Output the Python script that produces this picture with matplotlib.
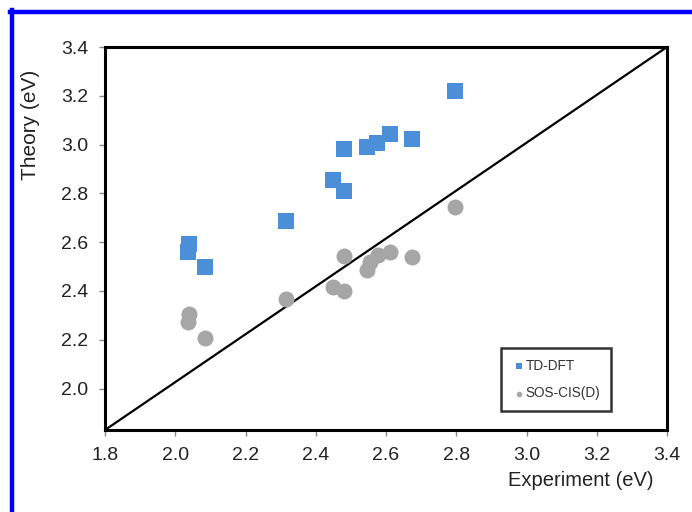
import matplotlib
matplotlib.use("Agg")
import matplotlib.pyplot as plt
from matplotlib.lines import Line2D

plt.rcParams['font.family'] = ['Liberation Sans', 'DejaVu Sans']

# Data
td_dft_x = [2.04, 2.037, 2.085, 2.314, 2.45, 2.48, 2.48, 2.545, 2.575, 2.611, 2.675, 2.796]
td_dft_y = [2.594, 2.56, 2.498, 2.686, 2.854, 2.98, 2.81, 2.99, 3.008, 3.043, 3.024, 3.221]
sos_x = [2.04, 2.035, 2.085, 2.314, 2.45, 2.48, 2.48, 2.545, 2.555, 2.578, 2.611, 2.675, 2.796]
sos_y = [2.304, 2.272, 2.208, 2.366, 2.416, 2.40, 2.542, 2.485, 2.52, 2.546, 2.56, 2.539, 2.745]
diag_x = [1.8, 3.4]
diag_y = [1.83, 3.4]
x_ticks = [1.8, 2.0, 2.2, 2.4, 2.6, 2.8, 3.0, 3.2, 3.4]
y_ticks = [2.0, 2.2, 2.4, 2.6, 2.8, 3.0, 3.2, 3.4]
xlim = (1.8, 3.4)
ylim = (1.83, 3.4)

fig = plt.figure(figsize=(6.92, 5.12), dpi=100)
W, H = 692, 512
ax = fig.add_axes([105 / W, 1 - 430 / H, (667 - 105) / W, (430 - 47) / H])

ax.plot(diag_x, diag_y, color='black', lw=1.6, zorder=1)
ax.scatter(td_dft_x, td_dft_y, marker='s', s=11.5 ** 2, color='#4a8fd8',
           linewidths=0, label='TD-DFT', zorder=3)
ax.scatter(sos_x, sos_y, marker='o', s=11.5 ** 2, color='#a6a6a6',
           linewidths=0, label='SOS-CIS(D)', zorder=2)

ax.set_xlim(*xlim)
ax.set_ylim(*ylim)
ax.set_xticks(x_ticks)
ax.set_yticks(y_ticks)
ax.set_xticklabels([f"{t:.1f}" for t in x_ticks])
ax.set_yticklabels([f"{t:.1f}" for t in y_ticks])
ax.tick_params(direction='out', length=4, width=1, color='#888888',
               labelsize=14, labelcolor='#222222', pad=8)
for s in ax.spines.values():
    s.set_linewidth(2.2)
    s.set_color('black')

fig.text(581 / W, 1 - 481 / H, 'Experiment (eV)', ha='center', va='center',
         fontsize=14.5, color='#222222')
fig.text(30 / W, 1 - 125 / H, 'Theory (eV)', ha='center', va='center',
         rotation=90, fontsize=15, color='#222222')

leg = ax.legend(loc='upper left', bbox_to_anchor=((501 - 105) / (667 - 105), 1 - (348 - 47) / (430 - 47)),
                frameon=True, fancybox=False, fontsize=9.8, markerscale=0.35,
                handletextpad=0.0, handlelength=1.0, borderpad=0.8,
                labelspacing=1.0, borderaxespad=0)
leg.get_frame().set_edgecolor('black')
leg.get_frame().set_linewidth(1.8)
for t in leg.get_texts():
    t.set_color('#333333')

# blue frame on left and top
fig.add_artist(Line2D([12 / W, 12 / W], [0, 1 - 10 / H], color='#0000ff', lw=3.2,
                      transform=fig.transFigure))
fig.add_artist(Line2D([10 / W, 1], [1 - 12 / H, 1 - 12 / H], color='#0000ff', lw=3.2,
                      transform=fig.transFigure))

fig.savefig('out.png', dpi=100)
